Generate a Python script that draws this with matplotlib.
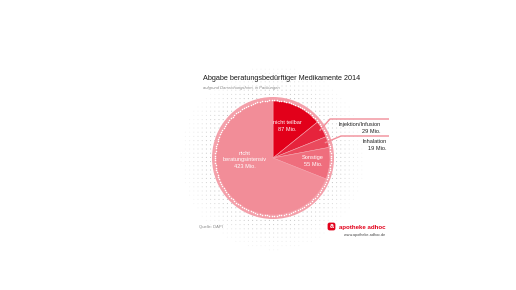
import numpy as np
import matplotlib
matplotlib.use("Agg")
import matplotlib.pyplot as plt
from matplotlib.patches import Circle, FancyBboxPatch

# %% Data
categories = ["nicht teilbar", "Injektion/Infusion", "Inhalation", "Sonstige", "nicht\nberatungsintensiv"]
values = [87, 29, 19, 55, 423]
value_labels = ["87 Mio.", "29 Mio.", "19 Mio.", "55 Mio.", "423 Mio."]
colors = ["#e2001a", "#e6233c", "#ea4a5d", "#ef6e7d", "#f28d98"]

title = "Abgabe beratungsbedürftiger Medikamente 2014"
subtitle = "aufgrund Darreichungsform, in Packungen"
source = "Quelle: DAPI"

W, H = 516, 290
cx, cy = 273, H - 158  # pie centre in pixel coords (y up)
r = 57

plt.rcParams['font.family'] = ['Liberation Sans', 'DejaVu Sans']

fig = plt.figure(figsize=(W / 100, H / 100), dpi=100)
ax = fig.add_axes([0, 0, 1, 1])

# dotted background circle
gx, gy = np.meshgrid(np.arange(cx - 96, cx + 97, 4.2), np.arange(cy - 96, cy + 97, 4.2))
gx, gy = gx.ravel(), gy.ravel()
d = np.hypot(gx - cx, gy - cy)
keep = (d < 92) & (d > r + 3)
alpha = np.clip((92 - d[keep]) / 30, 0.15, 1.0)
ax.scatter(gx[keep], gy[keep], s=0.6, c=[(0.72, 0.72, 0.72, a) for a in alpha], linewidths=0, zorder=1)

# outer ring
ax.add_patch(Circle((cx, cy), r + 4, facecolor="#f4a0aa", edgecolor="none", zorder=2))

wedges, _ = ax.pie(values, colors=colors, startangle=90, counterclock=False,
                   center=(cx, cy), radius=r,
                   wedgeprops=dict(edgecolor="#f5a3ad", linewidth=0.4))
for w in wedges:
    w.set_zorder(3)

# white dotted rim
ang = np.linspace(0, 2 * np.pi, 150, endpoint=False)
ax.scatter(cx + (r + 0.8) * np.cos(ang), cy + (r + 0.8) * np.sin(ang), s=1.2, c="white", linewidths=0, zorder=4)

# labels inside slices
fs = 4.1
ax.text(287, H - 126, categories[0] + "\n" + value_labels[0], color="white", fontsize=fs,
        ha="center", va="center", linespacing=1.35, zorder=5)
ax.text(313, H - 161, categories[3] + "\n" + value_labels[3], color="white", fontsize=fs,
        ha="center", va="center", linespacing=1.35, zorder=5)
ax.text(245, H - 160, categories[4] + "\n" + value_labels[4], color="white", fontsize=fs,
        ha="center", va="center", linespacing=1.35, zorder=5)

# leader lines for the small slices
total = sum(values)
cum = np.cumsum([0] + values)
line_col = "#f28d98"
for i, (ky, tx) in zip([1, 2], [(119, 381), (136, 387)]):
    mid = 90 - (cum[i] + values[i] / 2) / total * 360
    px = cx + (r - 3) * np.cos(np.radians(mid))
    py = cy + (r - 3) * np.sin(np.radians(mid))
    kx = 330 if i == 1 else 341
    ax.plot([px, kx, 389], [py, H - ky, H - ky], color=line_col, lw=1.0, zorder=5,
            solid_capstyle="butt")
    ax.text(tx, H - ky - 9, categories[i] + "\n" + value_labels[i], color="#222222",
            fontsize=fs, ha="right", va="center", linespacing=1.35, multialignment="right")

# titles
ax.text(203, H - 79, title, fontsize=5.2, color="#1a1a1a", ha="left", va="center")
ax.text(203, H - 88, subtitle, fontsize=3.0, color="#888888", style="italic", ha="left", va="center")
ax.text(199, H - 227, source, fontsize=3.0, color="#888888", ha="left", va="center")

# logo
ax.add_patch(FancyBboxPatch((328, H - 230), 7, 7, boxstyle="round,pad=0.4,rounding_size=2",
                            facecolor="#e2001a", edgecolor="none"))
ax.text(331.5, H - 226.5, "a", color="white", fontsize=5, fontweight="bold", ha="center", va="center")
ax.text(339, H - 228, "apotheke adhoc", color="#e2001a", fontsize=4.4, fontweight="bold",
        ha="left", va="center")
ax.text(385, H - 235, "www.apotheke-adhoc.de", color="#444444", fontsize=2.7, ha="right", va="center")

ax.set_xlim(0, W)
ax.set_ylim(0, H)
ax.set_aspect("auto")
ax.axis("off")

fig.savefig("out.png", dpi=100, facecolor="white")
